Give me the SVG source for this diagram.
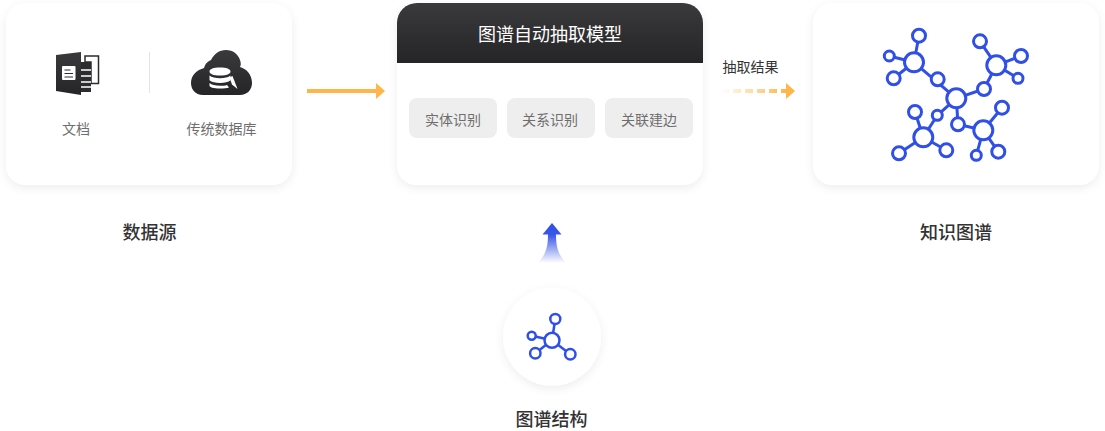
<svg xmlns="http://www.w3.org/2000/svg" width="1105" height="431" viewBox="0 0 1105 431">
<style>
text{font-family:"Noto Sans CJK SC","Noto Sans",sans-serif;text-anchor:middle;dominant-baseline:central}
.card{fill:#fff;filter:url(#sh)}
.chip{fill:#eee}
.sm{font-size:14px;fill:#6e6e6e}
.lb{font-size:18px;font-weight:500;fill:#333}
.g circle{fill:#fff;stroke:#2f4fe6;stroke-width:3}
.g line{stroke:#2f4fe6;stroke-width:3}
.s circle{stroke-width:2.500}
.s line{stroke-width:2.500}
</style>
<defs>
<filter id="sh" x="-15%" y="-15%" width="130%" height="135%"><feDropShadow dx="0" dy="3" stdDeviation="5" flood-color="#000" flood-opacity=".07"/></filter>
<linearGradient id="dk" x1="0" y1="0" x2="0" y2="1"><stop offset="0" stop-color="#3a3a3d"/><stop offset="1" stop-color="#252528"/></linearGradient>
<linearGradient id="up" gradientUnits="userSpaceOnUse" x1="0" y1="223" x2="0" y2="263"><stop offset="0" stop-color="#2f4fe6"/><stop offset=".3" stop-color="#2f4fe6" stop-opacity=".95"/><stop offset="1" stop-color="#2f4fe6" stop-opacity="0"/></linearGradient>
<linearGradient id="fade" gradientUnits="userSpaceOnUse" x1="721" y1="0" x2="786" y2="0"><stop offset="0" stop-color="#ffb548" stop-opacity="0"/><stop offset="1" stop-color="#ffb548"/></linearGradient>
</defs>

<g id="connectors">
<path id="arrow-source" d="M307 89h69v-6l9 8-9 8v-6h-69z" fill="#ffb548"/>
<path id="arrow-result" d="M786 83l9 8-9 8z" fill="#ffb548"/>
<line x1="721" y1="91" x2="786" y2="91" stroke="url(#fade)" stroke-width="4" stroke-dasharray="8 4"/>
<path id="arrow-structure" d="M552 223l9.500 11.500h-5.500c0 12 2 20 10 28h-28c8-8 10-16 10-28h-5.500z" fill="url(#up)"/>
</g>

<g id="source">
<rect class="card" x="6" y="3" width="286" height="182" rx="20"/>
<rect x="149" y="52" width="1" height="41" fill="#e4e4e4"/>
<g id="doc-icon">
<path d="M85 56h13.500v27.500H91V62h-6z" fill="none" stroke="#2c2c2f" stroke-width="1.500"/>
<rect x="81" y="62" width="10" height="30" fill="#2c2c2f"/>
<path d="M81 70h10M81 76h10M81 82h10M81 87h10" stroke="#fff" stroke-width="1.300"/>
<path d="M56 55l25-3v43l-25-4z" fill="url(#dk)"/>
<rect x="62" y="66" width="13.500" height="14" rx="1" fill="#fff"/>
<path d="M64.500 70h6M64.500 73.500h8.500M64.500 77h8.500" stroke="#2c2c2f" stroke-width="1.200"/>
</g>
<text class="sm" x="76" y="127.500">文档</text>
<g id="db-icon">
<path d="M203 95C195 95 191 89 191 83C191 75 197 70 204 68C206 62 209 61 211 60C214 54 219 50 226 50C233 50 238 54 240 60C241 63 241 65 240 67C247 69 252 75 252 83C252 90 247 95 240 95z" fill="url(#dk)"/>
<path d="M209.500 71.500c0-2.500 4-4 10.500-4s10.500 1.500 10.500 4-4 4-10.500 4-10.500-1.500-10.500-4zM209.500 75.500c2 2 6 2.700 10.500 2.700s8.500-.7 10.500-2.700v4.700c-2 2-6 2.700-10.500 2.700s-8.500-.7-10.500-2.700zM209.500 83c2 2 6 2.700 10.500 2.700 3 0 5-.2 7-.8l2 2.600c-2 .6-5 1-9 1-6.500 0-10.500-1.200-10.500-3z" fill="#fff"/>
<path d="M229.500 77.500l3-1.500 5 13-5.500-4.500z" fill="#fff"/>
</g>
<text class="sm" x="221.500" y="127.500">传统数据库</text>
</g>
<text class="lb" x="149.500" y="230.500">数据源</text>

<g id="model">
<rect class="card" x="397" y="3" width="306" height="182" rx="20"/>
<path d="M397 63V23a20 20 0 0 1 20-20h266a20 20 0 0 1 20 20v40z" fill="url(#dk)"/>
<text x="550" y="32.500" style="font-size:18px;fill:#fff">图谱自动抽取模型</text>
<g id="chip-entity"><rect class="chip" x="409" y="98" width="88" height="40" rx="8"/><text class="sm" x="453" y="118.500">实体识别</text></g>
<g id="chip-relation"><rect class="chip" x="507" y="98" width="88" height="40" rx="8"/><text class="sm" x="550" y="118.500">关系识别</text></g>
<g id="chip-link"><rect class="chip" x="605" y="98" width="88" height="40" rx="8"/><text class="sm" x="649" y="118.500">关联建边</text></g>
</g>

<text x="750.500" y="65.500" style="font-size:14px;fill:#333">抽取结果</text>

<g id="graph">
<rect class="card" x="813" y="3" width="286" height="182" rx="20"/>
<g class="g">
<line x1="956.300" y1="98.300" x2="914" y2="62.300"/><line x1="914" y1="62.300" x2="919" y2="35.700"/><line x1="914" y1="62.300" x2="889.300" y2="56"/><line x1="914" y1="62.300" x2="893.700" y2="78.300"/>
<line x1="956.300" y1="98.300" x2="984" y2="89"/><line x1="984" y1="89" x2="996.300" y2="65.300"/><line x1="996.300" y1="65.300" x2="980" y2="41.300"/><line x1="996.300" y1="65.300" x2="1021" y2="56"/><line x1="996.300" y1="65.300" x2="1018" y2="78.300"/>
<line x1="956.300" y1="98.300" x2="937.300" y2="115.300"/><line x1="937.300" y1="115.300" x2="923.300" y2="137.300"/><line x1="923.300" y1="137.300" x2="915" y2="112"/><line x1="923.300" y1="137.300" x2="899" y2="153.300"/><line x1="923.300" y1="137.300" x2="946.300" y2="150.300"/>
<line x1="956.300" y1="98.300" x2="958" y2="124.300"/><line x1="958" y1="124.300" x2="983.300" y2="130.300"/><line x1="983.300" y1="130.300" x2="1002" y2="107.700"/><line x1="983.300" y1="130.300" x2="998.300" y2="151.700"/><line x1="983.300" y1="130.300" x2="976.300" y2="155.300"/>
<circle cx="956.300" cy="98.300" r="9.500"/><circle cx="914" cy="62.300" r="9.500"/><circle cx="919" cy="35.700" r="6.500"/><circle cx="889.300" cy="56" r="5"/><circle cx="893.700" cy="78.300" r="6.500"/><circle cx="937.700" cy="79.300" r="6.500"/>
<circle cx="996.300" cy="65.300" r="9.500"/><circle cx="980" cy="41.300" r="6.500"/><circle cx="1021" cy="56" r="6.500"/><circle cx="1018" cy="78.300" r="5"/><circle cx="984" cy="89" r="6.500"/>
<circle cx="923.300" cy="137.300" r="9.500"/><circle cx="915" cy="112" r="6.500"/><circle cx="937.300" cy="115.300" r="5"/><circle cx="899" cy="153.300" r="6.500"/><circle cx="946.300" cy="150.300" r="6.500"/>
<circle cx="983.300" cy="130.300" r="9.500"/><circle cx="958" cy="124.300" r="6.500"/><circle cx="1002" cy="107.700" r="6.500"/><circle cx="998.300" cy="151.700" r="6.500"/><circle cx="976.300" cy="155.300" r="5"/>
</g>
</g>
<text class="lb" x="956" y="230.500">知识图谱</text>

<g id="structure">
<circle cx="552" cy="336.700" r="49" fill="#fff" filter="url(#sh)"/>
<g class="g s">
<line x1="552" y1="340.300" x2="555.300" y2="319"/><line x1="552" y1="340.300" x2="531.700" y2="335.700"/><line x1="552" y1="340.300" x2="535.300" y2="353.300"/><line x1="552" y1="340.300" x2="570.300" y2="354.300"/>
<circle cx="552" cy="340.300" r="7.500"/><circle cx="555.300" cy="319" r="5"/><circle cx="531.700" cy="335.700" r="4"/><circle cx="535.300" cy="353.300" r="5.200"/><circle cx="570.300" cy="354.300" r="5.200"/>
</g>
</g>
<text class="lb" x="551.500" y="418">图谱结构</text>
</svg>
